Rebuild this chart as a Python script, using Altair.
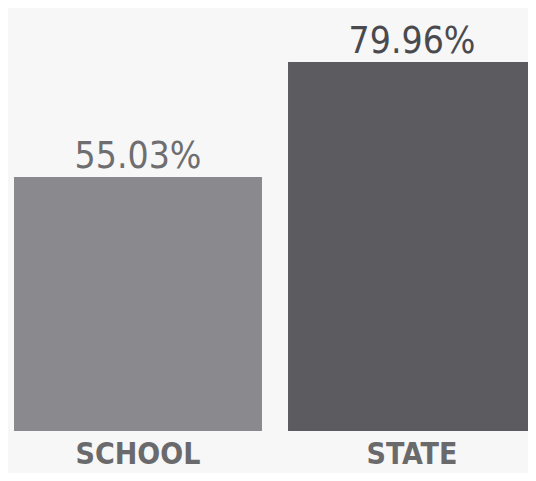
import altair as alt
import pandas as pd

categories = ["SCHOOL", "STATE"]
values = [55.03, 79.96]
bar_colors = ["#8a8a8e", "#5b5b60"]
text_colors = ["#6e6e70", "#4a4a4e"]

df = pd.DataFrame({"cat": categories, "value": values})

FONT = "DejaVu Sans Condensed, DejaVu Sans, sans-serif"

x = alt.X(
    "cat:N",
    sort=categories,
    scale=alt.Scale(range=[6, 528], paddingInner=0.095, paddingOuter=0),
    axis=alt.Axis(
        title=None, domain=False, ticks=False, labelAngle=0,
        labelFont=FONT, labelFontSize=30, labelFontWeight="bold",
        labelColor="#6a6a6c", labelPadding=8,
    ),
)
y = alt.Y("value:Q", scale=alt.Scale(domain=[0, 91.65], nice=False, zero=True), axis=None)

bars = alt.Chart(df).mark_bar().encode(
    x=x, y=y,
    color=alt.Color("cat:N", scale=alt.Scale(domain=categories, range=bar_colors), legend=None),
)

labels = alt.Chart(df).transform_calculate(
    label="format(datum.value, '.2f') + '%'"
).mark_text(
    font=FONT, fontSize=37, baseline="alphabetic", dy=-9, align="center"
).encode(
    x=x, y=y,
    text="label:N",
    color=alt.Color("cat:N", scale=alt.Scale(domain=categories, range=text_colors), legend=None),
)

chart = alt.layer(bars, labels).resolve_scale(color="independent").properties(
    width=520, height=423,
    padding={"left": 0, "top": 0, "right": 0, "bottom": 42},
    autosize=alt.AutoSizeParams(type="none"),
    background="#f7f7f7",
).configure_view(stroke=None)

chart.save("out.html", embed_options={"renderer": "svg", "actions": False})
